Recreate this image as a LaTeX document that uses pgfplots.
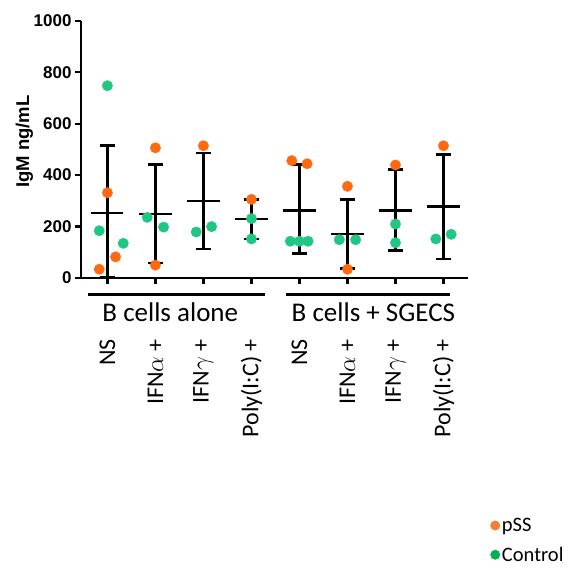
\documentclass[border=0pt]{standalone}
\usepackage{pgfplots}
\pgfplotsset{compat=1.18}
\usepackage{fontspec}
\setmainfont{Carlito}
\newfontfamily\arialf{Liberation Sans}
\definecolor{dorange}{HTML}{FF6A10}
\definecolor{dgreen}{HTML}{1FC684}
\definecolor{lorange}{HTML}{F0812F}
\definecolor{lgreen}{HTML}{00B14F}
\begin{document}
\begin{tikzpicture}
\path[use as bounding box] (-81pt,-292.3pt) rectangle (490pt,277.7pt);
\begin{axis}[
  scale only axis,
  width=387pt, height=256.7pt,
  xmin=-0.55, xmax=7.51,
  ymin=0, ymax=1000,
  axis x line=bottom, axis y line=left,
  axis line style={-, line width=2.3pt},
  clip=false,
  xtick={0,1,2,3,4,5,6,7},
  xticklabels={NS, IFN$\alpha$ +, IFN$\gamma$ +, Poly(I:C) +, NS, IFN$\alpha$ +, IFN$\gamma$ +, Poly(I:C) +},
  xticklabel style={font=\fontsize{24}{24}\selectfont, yshift=-52pt, rotate=90, anchor=east},
  ytick={0,200,400,600,800,1000},
  yticklabel style={font=\arialf\bfseries\fontsize{17}{17}\selectfont},
  /pgf/number format/assume math mode=true,
  /pgf/number format/1000 sep={},
  tick align=outside,
  major tick length=6pt,
  tick style={line width=2.3pt, black},
  ylabel={IgM ng/mL},
  ylabel style={font=\arialf\bfseries\fontsize{18.5}{18.5}\selectfont, at={(axis description cs:-0.115,0.53)}, anchor=south},
  legend style={draw=none, fill=none, font=\fontsize{20.5}{24}\selectfont, at={(1.05,-0.92)}, anchor=north west, row sep=10pt},
  legend cell align=left,
]
% mean lines and SD error bars
\addplot[draw=none, mark=none, forget plot,
  error bars/.cd, y dir=both, y explicit,
  error bar style={line width=3.2pt, black},
  error mark options={rotate=90, line width=2.8pt, mark size=7.5pt, black}]
  table[x=x, y=m, y error plus=ep, y error minus=em] {
  x m ep em
  0 253 263 253
  1 247 193 190
  2 299 187 187
  3 230 75 79
  4 262 178 167
  5 169 136 134
  6 262 158 157
  7 277 204 204
};
\addplot[draw=none, mark=none, forget plot,
  error bars/.cd, x dir=both, x fixed=0.335, error mark=none,
  error bar style={line width=2.3pt, black}]
  table[x=x, y=m] {
  x m
  0 253
  1 247
  2 299
  3 230
  4 262
  5 169
  6 262
  7 277
};
% pSS
\addplot[only marks, mark=*, mark size=5.2pt, color=dorange, forget plot] table {
  0 331
  0.17 81
  -0.17 33
  1 506
  1 49
  2 514
  3 305
  3.84 456
  4.16 444
  5 356
  5 33
  6 439
  7 514
};
% Control
\addplot[only marks, mark=*, mark size=5.2pt, color=dgreen, forget plot] table {
  0 748
  -0.17 183
  0.33 134
  0.83 235
  1.17 197
  1.85 178
  2.17 199
  3 230
  3 151
  3.81 142
  4 142
  4.18 142
  4.83 148
  5.17 148
  6 209
  6 136
  6.84 151
  7.16 169
};
\addlegendimage{only marks, mark=*, mark size=4.7pt, color=lorange}
\addlegendentry{pSS}
\addlegendimage{only marks, mark=*, mark size=4.7pt, color=lgreen}
\addlegendentry{Control}
% group brackets
\draw[line width=2.3pt] (axis cs:-0.4,-65.4) -- (axis cs:3.29,-65.4);
\draw[line width=2.3pt] (axis cs:3.72,-65.4) -- (axis cs:7.14,-65.4);
\node[anchor=base, font=\fontsize{27}{27}\selectfont] at (axis cs:1.31,-171) {B cells alone};
\node[anchor=base, font=\fontsize{27}{27}\selectfont] at (axis cs:5.54,-171) {B cells + SGECS};
\end{axis}
\end{tikzpicture}
\end{document}
